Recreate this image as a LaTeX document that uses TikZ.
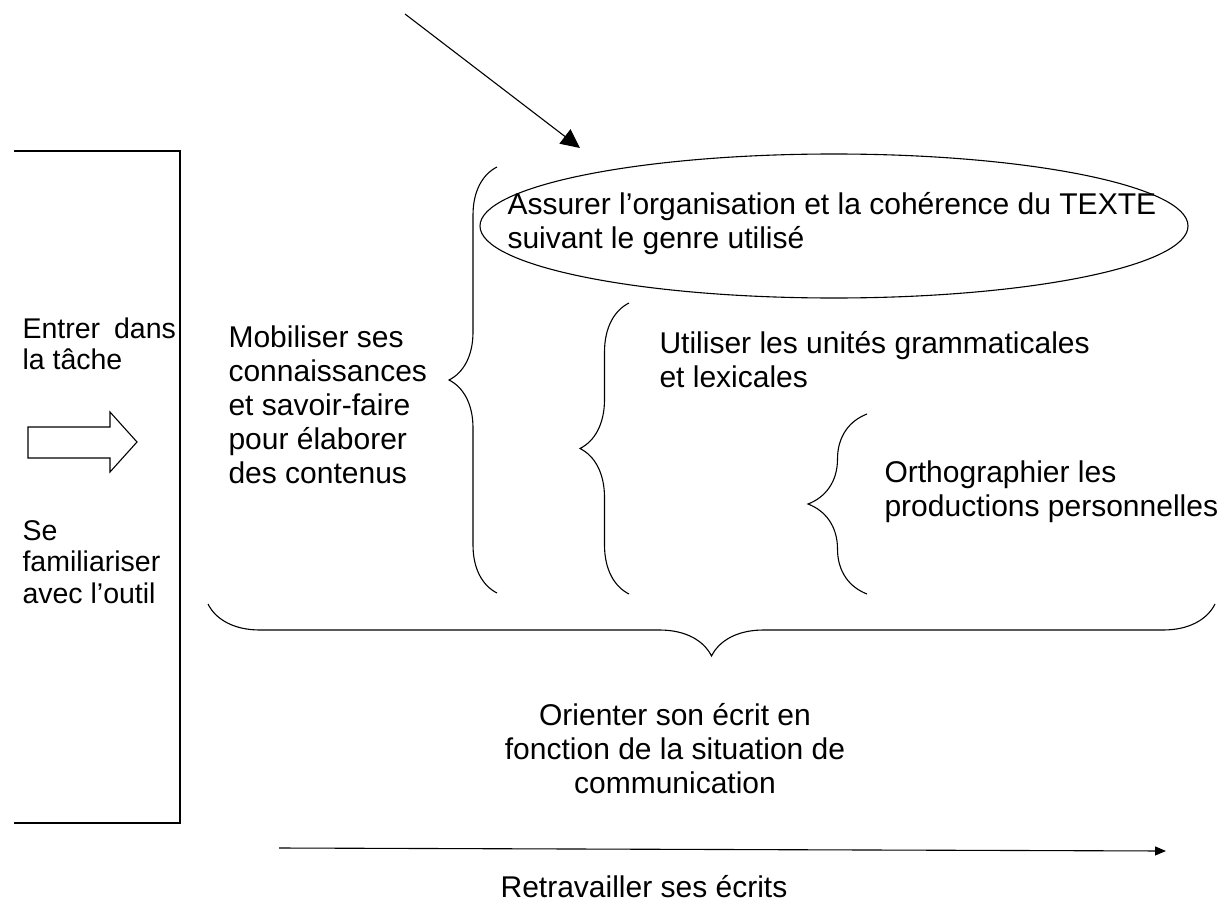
\documentclass[tikz,border=0pt]{standalone}
\usepackage{fontspec}
\setmainfont{Liberation Sans}
\usetikzlibrary{arrows.meta, decorations.pathreplacing, shapes.geometric}

\tikzset{
    txt/.style={inner sep=0pt, align=left, anchor=north west, font=\fontsize{30}{34}\selectfont},
    sidetxt/.style={txt, font=\fontsize{28.5}{31.5}\selectfont},
    bracket/.style={decorate, decoration={brace, amplitude=#1}},
}

\begin{document}
\begin{tikzpicture}[x=1pt, y=-1pt, line width=1.1pt]
    \useasboundingbox (0,0) rectangle (1230,904);

    % left column
    \draw (14,151) -- (180,151) -- (180,823) -- (14,823);
    \node[sidetxt] (entrer) at (22,317) {Entrer\hspace{14pt}dans\\la tâche};
    \draw (28,427) -- (110,427) -- (110,412) -- (137,442) -- (110,472) -- (110,458) -- (28,458) -- cycle;
    \node[sidetxt] (outil) at (22,520) {Se\\familiariser\\avec l’outil};

    % pointer to the oval
    \coordinate (p1) at (405,14);
    \coordinate (p2) at (580,148);
    \draw[-{Triangle[length=19pt,width=18pt]}] (p1) -- (p2);
    \node[draw, ellipse, minimum width=708pt, minimum height=144pt, inner sep=0pt] (oval) at (834,226) {};

    % texts
    \node[txt] (assurer) at (507,192) {Assurer l’organisation et la cohérence du TEXTE\\suivant le genre utilisé};
    \node[txt] (mobiliser) at (228,325) {Mobiliser ses\\connaissances\\et savoir-faire\\pour élaborer\\des contenus};
    \node[txt] (utiliser) at (659,331) {Utiliser les unités grammaticales\\et lexicales};
    \node[txt] (ortho) at (884,460) {Orthographier les\\productions personnelles};
    \node[txt, align=center, anchor=north] (orienter) at (675,703) {Orienter son écrit en\\fonction de la situation de\\communication};
    \node[txt, anchor=base] (retravailler) at (644,897) {Retravailler ses écrits};

    % braces
    \draw[bracket=48pt] (497,593) -- (497,167);
    \draw[bracket=49pt] (629,594) -- (629,303);
    \draw[bracket=59pt] (867,594) -- (867,414);
    \draw[bracket=52pt] (1215,604) -- (208,604);

    % time line
    \coordinate (t1) at (279,848);
    \coordinate (t2) at (1166,851);
    \draw[-{Triangle[length=11pt,width=9pt]}] (t1) -- (t2);
\end{tikzpicture}
\end{document}
